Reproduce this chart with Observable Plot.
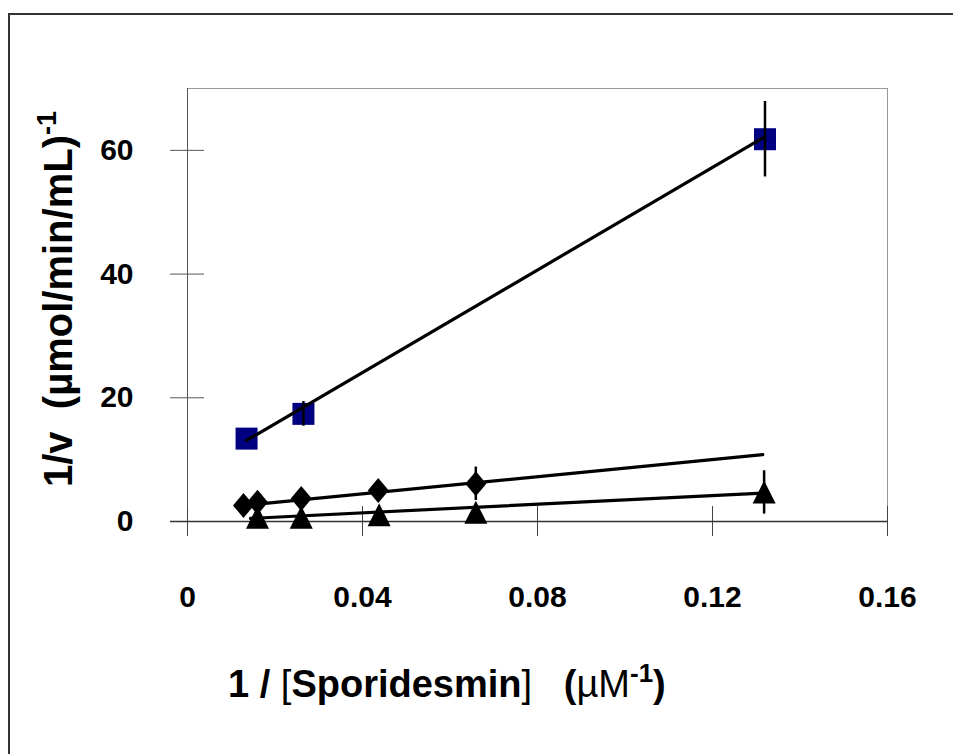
<!DOCTYPE html>
<html><head><meta charset="utf-8">
<script src="https://cdn.jsdelivr.net/npm/d3@7"></script>
<script src="https://cdn.jsdelivr.net/npm/@observablehq/plot@0.6"></script>
<style>
body{margin:0;background:#fff;}
#wrap{position:relative;width:953px;height:754px;overflow:hidden;background:#fff;}
#border{position:absolute;left:8px;top:13px;width:1000px;height:800px;border:2px solid #333;pointer-events:none;}
</style></head><body>
<div id="wrap"><div id="chart"></div><div id="border"></div></div>
<script>
// Tick values
const xTicks = [0, 0.04, 0.08, 0.12, 0.16];
const yTicks = [0, 20, 40, 60];

// Series (squares, navy)
const squareX = [0.0135, 0.0265, 0.132];
const squareY = [13.4, 17.4, 61.8];
const squareErr = [0, 2.0, 6.1];
// Series (diamonds)
const diamondX = [0.0128, 0.016, 0.026, 0.0436, 0.0659];
const diamondY = [2.6, 3.1, 3.7, 5.0, 6.1];
const diamondErr = [0, 0, 0, 0, 2.7];
// Series (triangles)
const triangleX = [0.016, 0.026, 0.0438, 0.0659, 0.1318];
const triangleY = [0.6, 0.6, 1.0, 1.4, 4.7];
const triangleErr = [0, 0, 0, 0, 3.5];

// Fitted lines (end points)
const squareFitX = [0.0135, 0.1315];
const squareFitY = [13.1, 62.0];
const diamondFitX = [0.016, 0.1315];
const diamondFitY = [2.8, 10.8];
const triangleFitX = [0.0144, 0.1315];
const triangleFitY = [0.5, 4.6];

const pts = (xs, ys, es) => xs.map((x, i) => ({x, y: ys[i], e: es ? es[i] : 0}));
const squares = pts(squareX, squareY, squareErr);
const diamonds = pts(diamondX, diamondY, diamondErr);
const triangles = pts(triangleX, triangleY, triangleErr);
const squareFit = pts(squareFitX, squareFitY);
const diamondFit = pts(diamondFitX, diamondFitY);
const triangleFit = pts(triangleFitX, triangleFitY);
const errs = [...squares, ...diamonds, ...triangles].filter(d => d.e > 0);

const sqSym = {draw(c) { const h = 11; c.moveTo(-h, -h); c.lineTo(h, -h); c.lineTo(h, h); c.lineTo(-h, h); c.closePath(); }};
const diaSym = {draw(c) { c.moveTo(0, -12.5); c.lineTo(10.5, 0); c.lineTo(0, 12.5); c.lineTo(-10.5, 0); c.closePath(); }};
const triSym = {draw(c) { c.moveTo(0, -12); c.lineTo(11.5, 11); c.lineTo(-11.5, 11); c.closePath(); }};

const svg = Plot.plot({
  width: 953, height: 754,
  marginLeft: 187, marginRight: 66, marginTop: 88, marginBottom: 233,
  x: {domain: [0, 0.16], label: null},
  y: {domain: [0, 70], label: null},
  style: {fontFamily: "'Liberation Sans', Arial, sans-serif", fontSize: "30px", fontWeight: "bold", color: "#000", background: "transparent", overflow: "visible"},
  marks: [
    Plot.frame({stroke: "#999"}),
    Plot.ruleX([0], {stroke: "#555"}),
    Plot.axisY(yTicks, {tickSize: 34, dx: 17, tickFormat: () => "", stroke: "#555", label: null}),
    Plot.axisY(yTicks, {tickSize: 0, tickPadding: 54, tickFormat: d => String(d), label: null}),
    Plot.axisX(xTicks, {tickSize: 30, dy: -15, tickFormat: () => "", stroke: "#444", label: null}),
    Plot.axisX(xTicks, {tickSize: 0, tickPadding: 64, tickFormat: d => String(d), label: null}),
    Plot.ruleY([0], {insetLeft: -17, stroke: "#333", strokeWidth: 1.5}),
    Plot.dot(squares, {x: "x", y: "y", symbol: sqSym, fill: "#000080", stroke: "none"}),
    Plot.dot(diamonds, {x: "x", y: "y", symbol: diaSym, fill: "#000", stroke: "none"}),
    Plot.dot(triangles, {x: "x", y: "y", symbol: triSym, fill: "#000", stroke: "none"}),
    Plot.line(squareFit, {x: "x", y: "y", stroke: "#000", strokeWidth: 3.2}),
    Plot.line(diamondFit, {x: "x", y: "y", stroke: "#000", strokeWidth: 3.2}),
    Plot.line(triangleFit, {x: "x", y: "y", stroke: "#000", strokeWidth: 3.2}),
    Plot.ruleX(errs, {x: "x", y1: d => d.y - d.e, y2: d => d.y + d.e, stroke: "#000", strokeWidth: 2.5})
  ]
});
document.getElementById("chart").appendChild(svg);

const s = d3.select(svg);
const ff = "'Liberation Sans', Arial, sans-serif";
// Y title
const yt = s.append("text")
  .attr("transform", "translate(72,487) rotate(-90)")
  .attr("text-anchor", "start")
  .attr("font-family", ff).attr("font-size", 40).attr("font-weight", "bold")
  .attr("fill", "#000").style("white-space", "pre");
yt.append("tspan").text("1/v  (µmol/min/mL)");
yt.append("tspan").attr("font-size", 27).attr("dy", -16).text("-1");

// X title
const xt = s.append("text")
  .attr("x", 228).attr("y", 697)
  .attr("text-anchor", "start")
  .attr("font-family", ff).attr("font-size", 38)
  .attr("fill", "#000").style("white-space", "pre");
xt.append("tspan").attr("font-weight", "bold").text("1 / ");
xt.append("tspan").attr("font-weight", "normal").text("[");
xt.append("tspan").attr("font-weight", "bold").text("Sporidesmin");
xt.append("tspan").attr("font-weight", "normal").text("]   ");
xt.append("tspan").attr("font-weight", "bold").text("(");
xt.append("tspan").attr("font-weight", "normal").text("µM");
xt.append("tspan").attr("font-weight", "bold").attr("font-size", 26).attr("dy", -15).text("-1");
xt.append("tspan").attr("font-weight", "bold").attr("dy", 15).text(")");
</script>
</body></html>
